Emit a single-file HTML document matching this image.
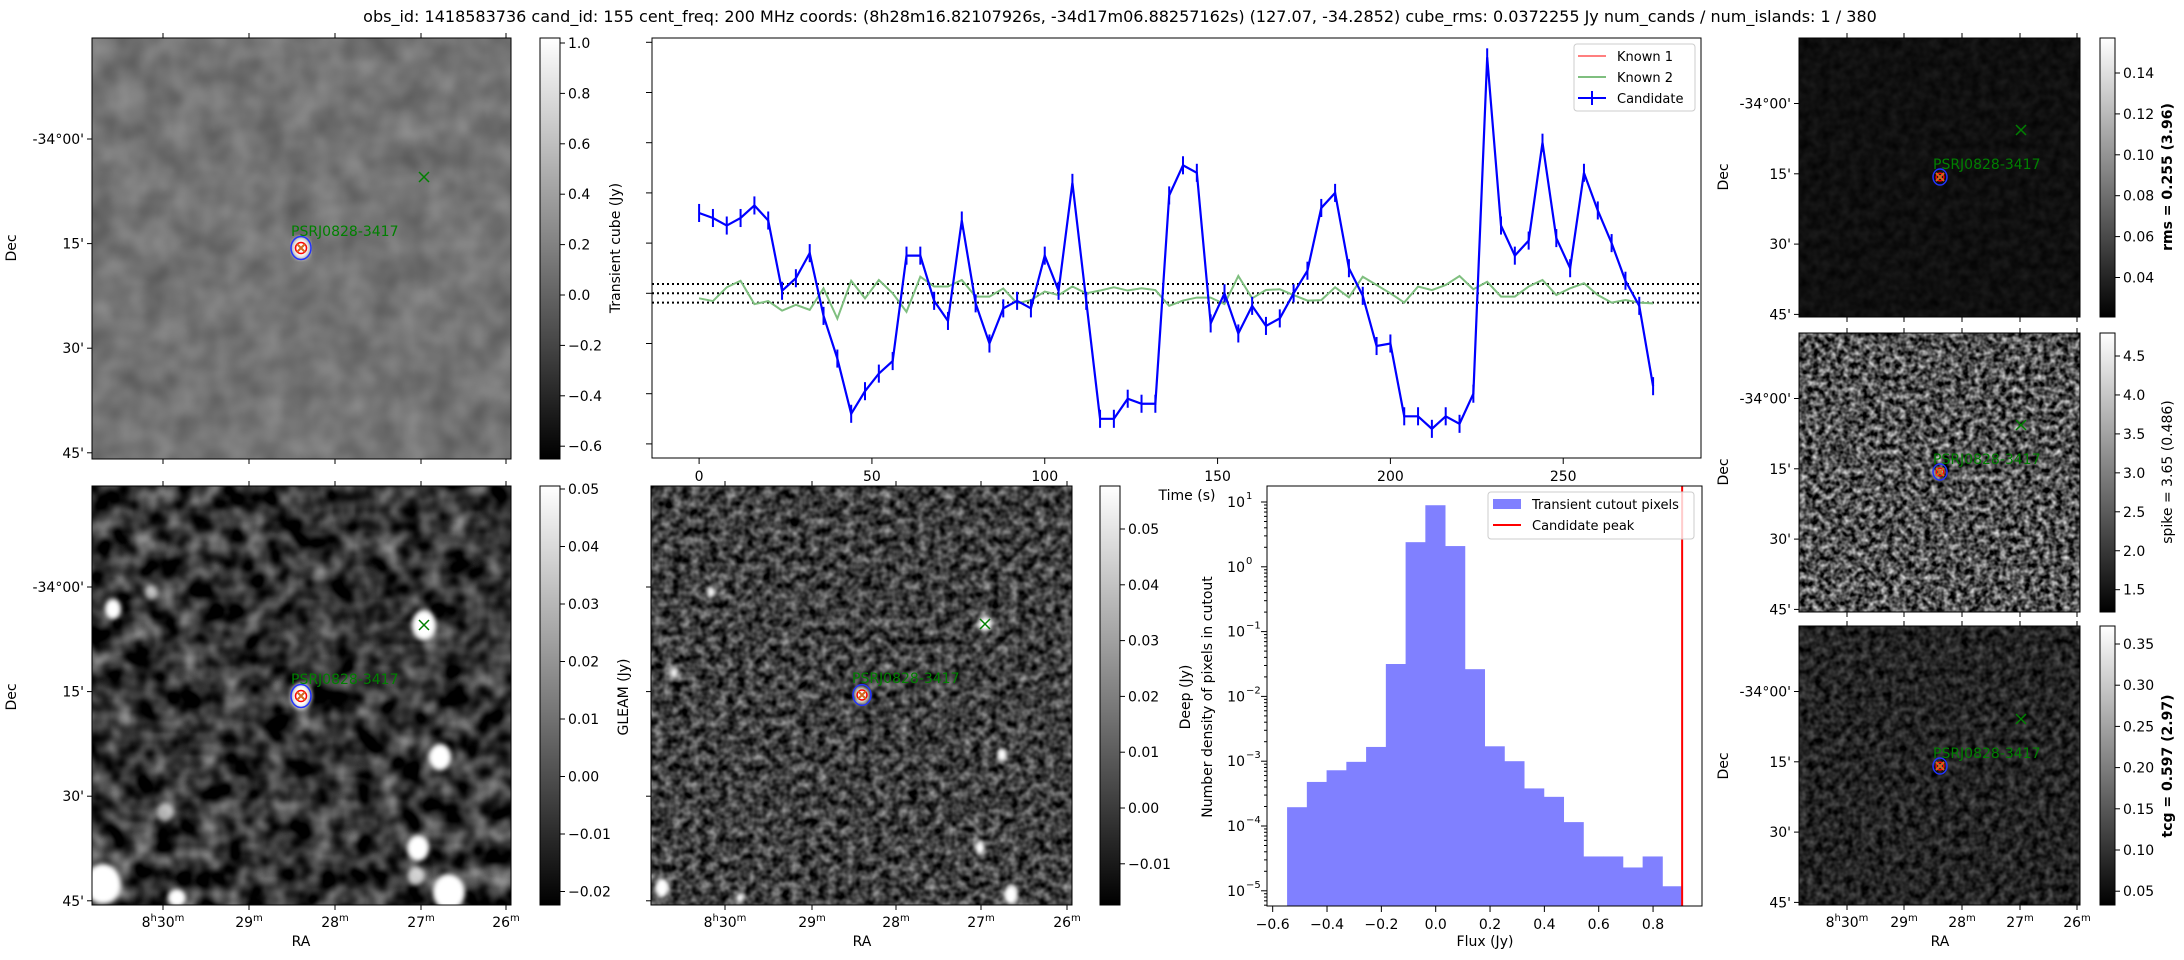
<!DOCTYPE html>
<html><head><meta charset="utf-8"><style>
html,body{margin:0;padding:0;background:#fff;}
svg{display:block;font-family:"DejaVu Sans","Liberation Sans",sans-serif;}
</style></head><body>
<svg id="fig" width="2184" height="960" viewBox="0 0 2184 960" xmlns="http://www.w3.org/2000/svg">
<defs>
<linearGradient id="gray" x1="0" y1="1" x2="0" y2="0"><stop offset="0" stop-color="#000"/><stop offset="1" stop-color="#fff"/></linearGradient>
<filter id="fTL" x="0" y="0" width="1" height="1" color-interpolation-filters="sRGB"><feTurbulence type="fractalNoise" baseFrequency="0.035" numOctaves="2" seed="4"/><feColorMatrix type="matrix" values="0.25 0 0 0 0.33 0.25 0 0 0 0.33 0.25 0 0 0 0.33 0 0 0 0 1"/></filter>
<filter id="fBL" x="0" y="0" width="1" height="1" color-interpolation-filters="sRGB"><feTurbulence type="fractalNoise" baseFrequency="0.045" numOctaves="2" seed="7"/><feColorMatrix type="matrix" values="1.0 0 0 0 -0.3 1.0 0 0 0 -0.3 1.0 0 0 0 -0.3 0 0 0 0 1"/></filter>
<filter id="fMD" x="0" y="0" width="1" height="1" color-interpolation-filters="sRGB"><feTurbulence type="fractalNoise" baseFrequency="0.11" numOctaves="2" seed="11"/><feColorMatrix type="matrix" values="0.9 0 0 0 -0.2 0.9 0 0 0 -0.2 0.9 0 0 0 -0.2 0 0 0 0 1"/></filter>
<filter id="fR1" x="0" y="0" width="1" height="1" color-interpolation-filters="sRGB"><feTurbulence type="fractalNoise" baseFrequency="0.1" numOctaves="2" seed="2"/><feColorMatrix type="matrix" values="0.12 0 0 0 0.0 0.12 0 0 0 0.0 0.12 0 0 0 0.0 0 0 0 0 1"/></filter>
<filter id="fR2" x="0" y="0" width="1" height="1" color-interpolation-filters="sRGB"><feTurbulence type="fractalNoise" baseFrequency="0.16" numOctaves="2" seed="5"/><feColorMatrix type="matrix" values="1.4 0 0 0 -0.38 1.4 0 0 0 -0.38 1.4 0 0 0 -0.38 0 0 0 0 1"/></filter>
<filter id="fR3" x="0" y="0" width="1" height="1" color-interpolation-filters="sRGB"><feTurbulence type="fractalNoise" baseFrequency="0.13" numOctaves="2" seed="9"/><feColorMatrix type="matrix" values="0.5 0 0 0 -0.11 0.5 0 0 0 -0.11 0.5 0 0 0 -0.11 0 0 0 0 1"/></filter>
<filter id="blur3"><feGaussianBlur stdDeviation="2.5"/></filter>
</defs>

<text x="1120" y="22" font-size="16" text-anchor="middle">obs_id: 1418583736 cand_id: 155 cent_freq: 200 MHz coords: (8h28m16.82107926s, -34d17m06.88257162s) (127.07, -34.2852) cube_rms: 0.0372255 Jy num_cands / num_islands: 1 / 380</text>

<!-- image panels -->
<rect x="92" y="38" width="419" height="421" filter="url(#fTL)"/>
<rect x="92" y="38" width="419" height="421" fill="none" stroke="#000"/>
<ellipse cx="301" cy="248" rx="9" ry="11" fill="#fff" filter="url(#blur3)"/>
<rect x="92" y="486" width="419" height="419" filter="url(#fBL)"/>
<g fill="#fff" filter="url(#blur3)">
<ellipse cx="424" cy="625" rx="12" ry="15"/><ellipse cx="113" cy="609" rx="8" ry="10"/><ellipse cx="151" cy="593" rx="6" ry="7" opacity="0.6"/><ellipse cx="440" cy="757" rx="11" ry="13"/><ellipse cx="418" cy="848" rx="11" ry="13"/><ellipse cx="416" cy="876" rx="8" ry="9" opacity="0.7"/><ellipse cx="103" cy="884" rx="18" ry="20"/><ellipse cx="449" cy="892" rx="16" ry="18"/><ellipse cx="177" cy="898" rx="9" ry="9"/><ellipse cx="165" cy="812" rx="8" ry="9" opacity="0.6"/><ellipse cx="301" cy="696" rx="10" ry="13"/>
</g>
<rect x="92" y="486" width="419" height="419" fill="none" stroke="#000"/>
<rect x="651" y="486" width="421" height="419" filter="url(#fMD)"/>
<g fill="#fff" filter="url(#blur3)">
<ellipse cx="711" cy="592" rx="4" ry="6"/><ellipse cx="674" cy="673" rx="4" ry="6"/><ellipse cx="985" cy="624" rx="7" ry="8"/><ellipse cx="1002" cy="755" rx="5" ry="7"/><ellipse cx="980" cy="848" rx="5" ry="7"/><ellipse cx="662" cy="888" rx="7" ry="10"/><ellipse cx="1011" cy="895" rx="7" ry="10"/><ellipse cx="740" cy="898" rx="4" ry="5"/><ellipse cx="862" cy="695" rx="7" ry="8"/>
</g>
<rect x="651" y="486" width="421" height="419" fill="none" stroke="#000"/>
<rect x="1799" y="38" width="281" height="279" filter="url(#fR1)"/>
<rect x="1799" y="38" width="281" height="279" fill="none" stroke="#000"/>
<rect x="1799" y="333" width="281" height="279" filter="url(#fR2)"/>
<rect x="1799" y="333" width="281" height="279" fill="none" stroke="#000"/>
<rect x="1799" y="626" width="281" height="279" filter="url(#fR3)"/>
<rect x="1799" y="626" width="281" height="279" fill="none" stroke="#000"/>

<!-- colorbars -->
<g>
<rect x="540" y="38" width="20" height="421" fill="url(#gray)" stroke="#000"/>
<rect x="540" y="486" width="20" height="419" fill="url(#gray)" stroke="#000"/>
<rect x="1100" y="486" width="20" height="419" fill="url(#gray)" stroke="#000"/>
<rect x="2100" y="38" width="15" height="279" fill="url(#gray)" stroke="#000"/>
<rect x="2100" y="333" width="15" height="279" fill="url(#gray)" stroke="#000"/>
<rect x="2100" y="626" width="15" height="279" fill="url(#gray)" stroke="#000"/>
</g>
<g id="cbticks" font-size="14"></g>

<g id="markers"></g>
<g id="imgaxes" font-size="14"></g>

<text transform="translate(16,697) rotate(-90)" font-size="14" text-anchor="middle">Dec</text>
<text transform="translate(16,248) rotate(-90)" font-size="14" text-anchor="middle">Dec</text>
<text x="301" y="946" font-size="14" text-anchor="middle">RA</text>
<text x="862" y="946" font-size="14" text-anchor="middle">RA</text>
<text x="1940" y="946" font-size="14" text-anchor="middle">RA</text>
<text transform="translate(1728,177) rotate(-90)" font-size="14" text-anchor="middle">Dec</text>
<text transform="translate(1728,472) rotate(-90)" font-size="14" text-anchor="middle">Dec</text>
<text transform="translate(1728,766) rotate(-90)" font-size="14" text-anchor="middle">Dec</text>
<text transform="translate(628,697) rotate(-90)" font-size="14" text-anchor="middle">GLEAM (Jy)</text>
<text transform="translate(1190,697) rotate(-90)" font-size="14" text-anchor="middle">Deep (Jy)</text>
<text transform="translate(2172,177) rotate(-90)" font-size="14" font-weight="bold" text-anchor="middle">rms = 0.255 (3.96)</text>
<text transform="translate(2172,472) rotate(-90)" font-size="14" text-anchor="middle">spike = 3.65 (0.486)</text>
<text transform="translate(2172,766) rotate(-90)" font-size="14" font-weight="bold" text-anchor="middle">tcg = 0.597 (2.97)</text>

<!-- light curve -->
<g id="lc">
<rect x="652" y="38" width="1049" height="420" fill="#fff" stroke="#000"/>
</g>
<text transform="translate(620,248) rotate(-90)" font-size="14" text-anchor="middle">Transient cube (Jy)</text>
<text x="1187" y="500" font-size="14" text-anchor="middle">Time (s)</text>

<!-- histogram -->
<g id="hist">
<rect x="1267" y="486" width="435" height="420" fill="#fff" stroke="#000"/>
</g>
<text transform="translate(1212,697) rotate(-90)" font-size="14" text-anchor="middle">Number density of pixels in cutout</text>
<text x="1485" y="946" font-size="14" text-anchor="middle">Flux (Jy)</text>

<script>
// ---------- Light curve data ----------
const lcTimes = [0,4,8,12,16,20,24,28,32,36,40,44,48,52,56,60,64,68,72,76,80,84,88,92,96,100,104,108,112,116,120,124,128,132,136,140,144,148,152,156,160,164,168,172,176,180,184,188,192,196,200,204,208,212,216,220,224,228,232,236,240,244,248,252,256,260,264,268,272,276];
const candidateFlux = [0.32,0.30,0.27,0.30,0.35,0.29,0.01,0.06,0.16,-0.09,-0.26,-0.48,-0.39,-0.32,-0.27,0.15,0.15,-0.03,-0.11,0.29,-0.04,-0.20,-0.06,-0.03,-0.06,0.15,0.01,0.44,-0.03,-0.50,-0.50,-0.42,-0.44,-0.44,0.39,0.51,0.48,-0.12,0.00,-0.16,-0.05,-0.13,-0.10,0.00,0.09,0.34,0.40,0.10,-0.01,-0.21,-0.20,-0.49,-0.49,-0.54,-0.49,-0.52,-0.40,0.94,0.27,0.15,0.21,0.60,0.22,0.10,0.48,0.33,0.20,0.05,-0.05,-0.37];
const candidateErr = 0.036;
const known2Flux = [-0.020,-0.031,0.024,0.050,-0.043,-0.031,-0.069,-0.046,-0.066,0.020,-0.101,0.050,-0.020,0.053,0.000,-0.074,0.066,0.027,0.027,0.053,-0.013,-0.013,0.019,-0.040,-0.027,0.007,-0.007,0.027,0.000,0.011,0.024,0.011,0.020,0.013,-0.050,-0.029,-0.017,-0.017,-0.043,0.069,-0.020,0.013,0.016,-0.007,-0.029,-0.027,0.024,-0.016,0.066,0.033,0.000,-0.037,0.027,0.013,0.033,0.069,0.016,0.046,-0.013,-0.013,0.027,0.053,-0.007,0.020,0.040,-0.007,-0.037,-0.027,-0.037,-0.040];
const cubeRms = 0.0372255;
const lcYTicks = [-0.6,-0.4,-0.2,0.0,0.2,0.4,0.6,0.8,1.0];
const lcXTicks = [0,50,100,150,200,250];

// ---------- Histogram data ----------
const histStart = -0.547;
const histBinWidth = 0.0727;
const histLogDensity = [-3.71,-3.32,-3.14,-3.01,-2.78,-1.50,0.38,0.95,0.32,-1.58,-2.77,-3.00,-3.42,-3.55,-3.94,-4.47,-4.47,-4.64,-4.47,-4.93];
const candidatePeak = 0.907;
const histXTicks = [-0.6,-0.4,-0.2,0.0,0.2,0.4,0.6,0.8];
const histYTicks = [1,0,-1,-2,-3,-4,-5];

const NS = "http://www.w3.org/2000/svg";
function mk(tag, attrs, parent){ const e=document.createElementNS(NS,tag); for(const k in attrs) e.setAttribute(k,attrs[k]); parent.appendChild(e); return e; }

// Light curve
const lc = document.getElementById('lc');
const lxs = t => 699.1 + t*3.4565;
const lys = v => 293.3 - v*251;
lcYTicks.forEach(v=>{ const t=mk('line',{x1:652,x2:646,y1:lys(v),y2:lys(v),stroke:'#000'},lc);

 });
lcXTicks.forEach(v=>{ const t=mk('line',{x1:lxs(v),x2:lxs(v),y1:458,y2:464,stroke:'#000'},lc);


const l=mk('text',{x:lxs(v),y:481,'font-size':14,'text-anchor':'middle'},lc); l.textContent=v;

 });
[-cubeRms,0,cubeRms].forEach(v=>{ const d=mk('line',{x1:652,x2:1701,y1:lys(v),y2:lys(v),stroke:'#000','stroke-width':2,'stroke-dasharray':'2,3'},lc);

 });
const k2 = mk('polyline',{points:known2Flux.map((v,i)=>lxs(lcTimes[i])+','+lys(v)).join(' '),fill:'none',stroke:'#7fbf7f','stroke-width':2},lc);


const cl = mk('polyline',{points:candidateFlux.map((v,i)=>lxs(lcTimes[i])+','+lys(v)).join(' '),fill:'none',stroke:'#0000ff','stroke-width':2.2},lc);


candidateFlux.forEach((v,i)=>{ const e=mk('line',{x1:lxs(lcTimes[i]),x2:lxs(lcTimes[i]),y1:lys(v-candidateErr),y2:lys(v+candidateErr),stroke:'#0000ff','stroke-width':2},lc);

 });
// legend
const lg = mk('g',{},lc);


mk('rect',{x:1574,y:44,width:121,height:67,rx:3,fill:'#fff',stroke:'#ccc'},lg);
mk('line',{x1:1578,x2:1606,y1:56,y2:56,stroke:'#ff7f7f','stroke-width':2},lg);
mk('line',{x1:1578,x2:1606,y1:77,y2:77,stroke:'#7fbf7f','stroke-width':2},lg);
mk('line',{x1:1578,x2:1606,y1:98,y2:98,stroke:'#0000ff','stroke-width':2},lg);
mk('line',{x1:1592,x2:1592,y1:91,y2:105,stroke:'#0000ff','stroke-width':2},lg);
[['Known 1',61],['Known 2',82],['Candidate',103]].forEach(a=>{ const t=mk('text',{x:1617,y:a[1],'font-size':13},lg); t.textContent=a[0]; });

// Histogram
const hs = document.getElementById('hist');
const hx = f => 1435.7 + f*271.7;
const hy = lg10 => 502 - (lg10-1)*64.8;
histLogDensity.forEach((d,i)=>{ const x0=hx(histStart+i*histBinWidth), x1=hx(histStart+(i+1)*histBinWidth);
const b=mk('rect',{x:x0,y:hy(d),width:x1-x0+0.4,height:906-hy(d),fill:'#8080ff'},hs);

 });
const pk = mk('line',{x1:hx(candidatePeak),x2:hx(candidatePeak),y1:486,y2:906,stroke:'#ff0000','stroke-width':2},hs);


mk('rect',{x:1267,y:486,width:435,height:420,fill:'none',stroke:'#000'},hs);
histXTicks.forEach(v=>{ mk('line',{x1:hx(v),x2:hx(v),y1:906,y2:912,stroke:'#000'},hs);
const l=mk('text',{x:hx(v),y:929,'font-size':14,'text-anchor':'middle'},hs); l.textContent=(v<0?'\u2212':'')+Math.abs(v).toFixed(1);

 });
histYTicks.forEach(v=>{ mk('line',{x1:1267,x2:1261,y1:hy(v),y2:hy(v),stroke:'#000'},hs);
for(let m=2;m<10;m++){ const yy=hy(v-1+Math.log10(m)); if(yy>486&&yy<906) mk('line',{x1:1267,x2:1264,y1:yy,y2:yy,stroke:'#000'},hs); }
const l=mk('text',{x:1245,y:hy(v)+5,'font-size':14,'text-anchor':'end'},hs); l.textContent='10';


const s=mk('text',{x:1246,y:hy(v)-3,'font-size':10},hs); s.textContent=(v<0?'\u2212':'')+Math.abs(v); });
const hl = mk('g',{},hs);


mk('rect',{x:1488,y:492,width:206,height:47,rx:3,fill:'#fff','fill-opacity':0.8,stroke:'#ccc'},hl);
mk('rect',{x:1493,y:499,width:28,height:10,fill:'#8080ff'},hl);
mk('line',{x1:1493,x2:1521,y1:525,y2:525,stroke:'#ff0000','stroke-width':2},hl);
let t1=mk('text',{x:1532,y:509,'font-size':13},hl); t1.textContent='Transient cutout pixels';
let t2=mk('text',{x:1532,y:530,'font-size':13},hl); t2.textContent='Candidate peak';

// Colorbar ticks
const cb = document.getElementById('cbticks');
function cbar(x, top, valTop, pxPer, vals, fmt){ vals.forEach(v=>{ const y=top+(valTop-v)*pxPer; mk('line',{x1:x,x2:x+5,y1:y,y2:y,stroke:'#000'},cb);
const t=mk('text',{x:x+8,y:y+5},cb); t.textContent=(v<0?'\u2212':'')+Math.abs(v).toFixed(fmt);

 }); }
cbar(560,43,1.0,252,[1.0,0.8,0.6,0.4,0.2,0.0,-0.2,-0.4,-0.6],1);
cbar(560,489,0.05,5750,[0.05,0.04,0.03,0.02,0.01,0.0,-0.01,-0.02],2);
cbar(1120,529,0.05,5580,[0.05,0.04,0.03,0.02,0.01,0.0,-0.01],2);
cbar(2115,73,0.14,2045,[0.14,0.12,0.10,0.08,0.06,0.04],2);
cbar(2115,356,4.5,77.9,[4.5,4.0,3.5,3.0,2.5,2.0,1.5],1);
cbar(2115,644,0.35,824,[0.35,0.30,0.25,0.20,0.15,0.10,0.05],2);

// Image axes (Dec/RA labels & ticks)
const ia = document.getElementById('imgaxes');
const decNames = ["-34\u00b000'","15'","30'","45'"];
function decAxis(x, top, off, step, labels){ decNames.forEach((n,i)=>{ const y=top+off+i*step; mk('line',{x1:x,x2:x-5,y1:y,y2:y,stroke:'#000'},ia);
if(labels){ const t=mk('text',{x:x-8,y:y+5,'text-anchor':'end'},ia); t.textContent=n;

 } }); }
decAxis(92,38,101,104.6,true); decAxis(92,486,101,104.6,true); decAxis(651,486,101,104.6,false);
decAxis(1799,38,65.5,70.3,true); decAxis(1799,333,65.5,70.3,true); decAxis(1799,626,65.5,70.3,true);
function raAxis(xs, top, bottom, labels){ xs.forEach((x,i)=>{ mk('line',{x1:x,x2:x,y1:bottom,y2:bottom+5,stroke:'#000'},ia); mk('line',{x1:x,x2:x,y1:top,y2:top-5,stroke:'#000'},ia);
if(labels){ const t=mk('text',{x:x,y:bottom+22,'text-anchor':'middle'},ia);
if(i===0){ t.textContent='8'; const a=mk('tspan',{dy:-6,'font-size':10},t); a.textContent='h'; const b=mk('tspan',{dy:6},t); b.textContent='30'; const c=mk('tspan',{dy:-6,'font-size':10},t); c.textContent='m'; }
else { t.textContent=(30-i); const c=mk('tspan',{dy:-6,'font-size':10},t); c.textContent='m'; }

 } }); }
raAxis([163,249,335,421,506],38,459,false);
raAxis([163,249,335,421,506],486,905,true);
raAxis([725,812,896,981,1067],486,905,true);
raAxis([1847,1904,1962,2020,2077],38,317,false);
raAxis([1847,1904,1962,2020,2077],333,612,false);
raAxis([1847,1904,1962,2020,2077],626,905,true);

// Source markers
const mkG = document.getElementById('markers');
function src(x,y,lx,ly,gx,gy,fs,r){ mk('ellipse',{cx:x,cy:y,rx:r,ry:r*1.15,fill:'none',stroke:'#2233ff','stroke-width':1.5},mkG);
mk('circle',{cx:x,cy:y,r:r*0.55,fill:'none',stroke:'#ff0000','stroke-width':1.5},mkG);
mk('path',{d:`M${x-4},${y-4}L${x+4},${y+4}M${x-4},${y+4}L${x+4},${y-4}`,stroke:'#d2691e','stroke-width':2},mkG);
const t=mk('text',{x:lx,y:ly,'font-size':fs,fill:'#008000'},mkG); t.textContent='PSRJ0828-3417';


mk('path',{d:`M${gx-5},${gy-5}L${gx+5},${gy+5}M${gx-5},${gy+5}L${gx+5},${gy-5}`,stroke:'#008000','stroke-width':1.5},mkG); }
src(301,248,291,236,424,177,14,10);
src(301,696,291,684,424,625,14,10);
src(862,695,852,683,985,624,14,9);
src(1940,177,1933,169,2021,130,14,7);
src(1940,472,1933,464,2021,425,14,7);
src(1940,766,1933,758,2021,719,14,7);
</script>
</svg>
</body></html>
